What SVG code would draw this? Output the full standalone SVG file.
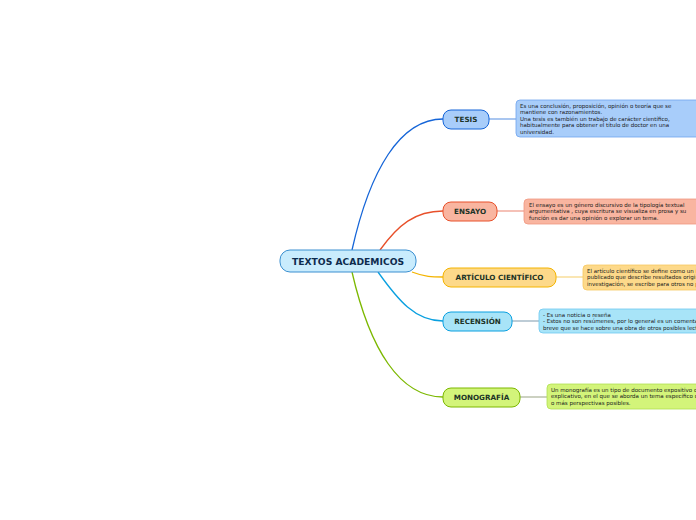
<svg xmlns="http://www.w3.org/2000/svg" width="696" height="520" viewBox="0 0 696 520">
<style>
.node text{font-family:"DejaVu Sans","Verdana",sans-serif;font-weight:bold;font-size:7.2px;fill:#1c3327;text-anchor:middle}
.desc text{font-family:"DejaVu Sans","Verdana",sans-serif;font-size:5.5px;fill:#1a1a1a}
.conn path{fill:none;stroke-width:1.3}
.thin{fill:none;stroke-width:0.8}
</style>
<rect width="696" height="520" fill="#ffffff"/>
<g id="connectors" class="conn">
<path d="M352,250 C370,170 400,119 443,119" stroke="#1565d8"/>
<path d="M380,250 C398,225 415,211 443,211" stroke="#e8502a"/>
<path d="M412,272 C425,277 432,277 443,277" stroke="#f4b400"/>
<path d="M378,272 C398,300 415,321 443,321" stroke="#0aa0e0"/>
<path d="M352,272 C370,350 400,397 443,397" stroke="#7cb800"/>
<path class="thin" d="M489,119 H516" stroke="#7aa8e8"/>
<path class="thin" d="M497,211 H524" stroke="#f0a090"/>
<path class="thin" d="M556,277 H583" stroke="#f8d98a"/>
<path class="thin" d="M512,321 H539" stroke="#9ab0c0"/>
<path class="thin" d="M520,397 H547" stroke="#b0b8a0"/>
</g>
<g id="central">
<rect x="280" y="250" width="136" height="22" rx="10" fill="#c9ecfd" stroke="#3a8fd0" stroke-width="1"/>
<text x="348" y="264.5" font-family="DejaVu Sans, Verdana, sans-serif" font-weight="bold" font-size="9.2px" fill="#0d2b4e" text-anchor="middle">TEXTOS ACADEMICOS</text>
</g>
<g id="tesis" class="node">
<rect x="443" y="110" width="46" height="19" rx="8" fill="#a8cdfa" stroke="#1565d8"/>
<text x="466" y="122">TESIS</text>
</g>
<g id="ensayo" class="node">
<rect x="443" y="202" width="54" height="19" rx="8" fill="#f9b5a0" stroke="#e8502a"/>
<text x="470" y="214">ENSAYO</text>
</g>
<g id="articulo" class="node">
<rect x="443" y="268" width="113" height="19" rx="8" fill="#fdd98a" stroke="#f4b400"/>
<text x="499.5" y="280">ARTÍCULO CIENTÍFICO</text>
</g>
<g id="recension" class="node">
<rect x="443" y="312" width="69" height="19" rx="8" fill="#a8e4f8" stroke="#0aa0e0"/>
<text x="477.5" y="324">RECENSIÓN</text>
</g>
<g id="monografia" class="node">
<rect x="443" y="388" width="77" height="19" rx="8" fill="#d3f47a" stroke="#7cb800"/>
<text x="481.5" y="400">MONOGRAFÍA</text>
</g>
<g id="tesis-desc" class="desc">
<rect x="516" y="100" width="240" height="37" rx="4" fill="#a8cdfa" stroke="#6fa3ee" stroke-width="0.8"/>
<text x="520" y="107.5">Es una conclusión, proposición, opinión o teoría que se</text>
<text x="520" y="114">mantiene con razonamientos.</text>
<text x="520" y="120.5">Una tesis es también un trabajo de carácter científico,</text>
<text x="520" y="127">habitualmente para obtener el título de doctor en una</text>
<text x="520" y="133.5">universidad.</text>
</g>
<g id="ensayo-desc" class="desc">
<rect x="524" y="199" width="240" height="25" rx="4" fill="#f9b5a0" stroke="#f09880" stroke-width="0.8"/>
<text x="529" y="206.5">El ensayo es un género discursivo de la tipología textual</text>
<text x="529" y="213">argumentativa , cuya escritura se visualiza en prosa y su</text>
<text x="529" y="219.5">función es dar una opinión o explorar un tema.</text>
</g>
<g id="articulo-desc" class="desc">
<rect x="583" y="265" width="240" height="25" rx="4" fill="#fdd98a" stroke="#f6c860" stroke-width="0.8"/>
<text x="587" y="272.5">El artículo científico se define como un informe escrito y</text>
<text x="587" y="279">publicado que describe resultados originales de una</text>
<text x="587" y="285.5">investigación, se escribe para otros no para uno mismo.</text>
</g>
<g id="recension-desc" class="desc">
<rect x="539" y="309" width="240" height="24" rx="4" fill="#a8e4f8" stroke="#6cc8f0" stroke-width="0.8"/>
<text x="543" y="316.5">- Es una noticia o reseña</text>
<text x="543" y="323">- Estos no son resúmenes, por lo general es un comentario</text>
<text x="543" y="329.5">breve que se hace sobre una obra de otros posibles lectores.</text>
</g>
<g id="monografia-desc" class="desc">
<rect x="547" y="384" width="240" height="25" rx="4" fill="#d3f47a" stroke="#b0e050" stroke-width="0.8"/>
<text x="551" y="391.5">Un monografía es un tipo de documento expositivo o</text>
<text x="551" y="398">explicativo, en el que se aborda un tema específico desde una</text>
<text x="551" y="404.5">o más perspectivas posibles.</text>
</g>
</svg>
